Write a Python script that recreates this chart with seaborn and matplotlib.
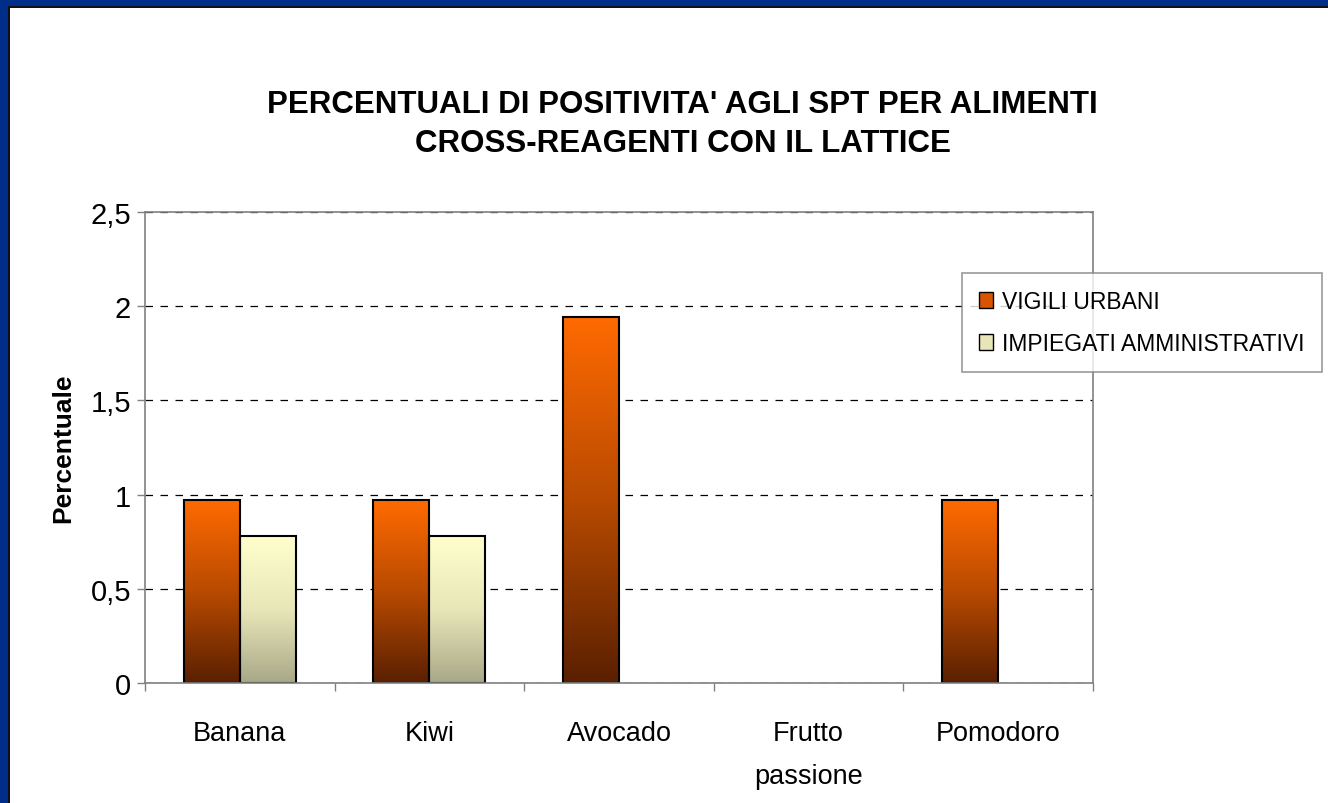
import numpy as np
import pandas as pd
import matplotlib
matplotlib.use("Agg")
import matplotlib.pyplot as plt
from matplotlib.patches import Patch, Rectangle
from matplotlib.colors import LinearSegmentedColormap
from matplotlib.ticker import FuncFormatter
import seaborn as sns

# data
foods = ["Banana", "Kiwi", "Avocado", "Frutto\npassione", "Pomodoro"]
vigili = [0.97, 0.97, 1.94, 0.0, 0.97]
impiegati = [0.78, 0.78, 0.0, 0.0, 0.0]
groups = ["VIGILI URBANI", "IMPIEGATI AMMINISTRATIVI"]
y_ticks = [0, 0.5, 1, 1.5, 2, 2.5]

df = pd.DataFrame({
    "Alimento": foods * 2,
    "Gruppo": [groups[0]] * len(foods) + [groups[1]] * len(foods),
    "Percentuale": vigili + impiegati,
})

sns.set_theme(style="white")
plt.rcParams["font.family"] = ["Liberation Sans", "DejaVu Sans"]
plt.rcParams["text.color"] = "black"
plt.rcParams["axes.labelcolor"] = "black"
plt.rcParams["xtick.labelcolor"] = "black"
plt.rcParams["ytick.labelcolor"] = "black"

fig = plt.figure(figsize=(13.28, 8.04), dpi=100)
ax = fig.add_axes([0.1092, 0.1493, 0.7139, 0.5858])

sns.barplot(data=df, x="Alimento", y="Percentuale", hue="Gruppo",
            hue_order=groups, palette=["#FF6600", "#FFFFCC"],
            width=0.59, edgecolor="black", linewidth=1.5, ax=ax)
ax.get_legend().remove()

# vertical gradient fills clipped to the bars
grad_maps = [
    LinearSegmentedColormap.from_list("org", ["#5A2000", "#B84A00", "#FF6A00"]),
    LinearSegmentedColormap.from_list("yel", ["#A8A888", "#E8E6B8", "#FFFFCC"]),
]
grad = np.linspace(0, 1, 256).reshape(-1, 1)
for cont, cmap in zip(ax.containers, grad_maps):
    for bar in cont:
        h = bar.get_height()
        if h <= 0:
            bar.set_visible(False)
            continue
        x0 = bar.get_x()
        img = ax.imshow(grad, cmap=cmap, origin="lower", aspect="auto",
                        extent=[x0, x0 + bar.get_width(), 0, h], zorder=bar.get_zorder())
        img.set_clip_path(bar)
        bar.set_facecolor("none")
        bar.set_zorder(bar.get_zorder() + 0.1)

ax.set_xlim(-0.5, len(foods) - 0.5)
ax.set_ylim(0, 2.5)
ax.set_yticks(y_ticks)
ax.yaxis.set_major_formatter(FuncFormatter(lambda v, p: f"{v:g}".replace(".", ",")))
ax.yaxis.grid(True, color="black", linestyle=(0, (6, 6)), linewidth=0.9)
ax.set_axisbelow(True)

# category boundaries as ticks, labels centred between them
ax.set_xticks(np.arange(-0.5, len(foods)), minor=True)
ax.tick_params(axis="x", which="major", length=0, pad=27, labelsize=19.5)
ax.tick_params(axis="x", which="minor", length=6, width=1, color="#808080",
               bottom=True, direction="out")
ax.tick_params(axis="y", length=6, width=1, color="#808080", left=True,
               direction="out", labelsize=21, pad=4)
for lab in ax.get_xticklabels():
    lab.set_linespacing(1.85)

for s in ax.spines.values():
    s.set_color("#808080")
    s.set_linewidth(1.2)

ax.set_xlabel("")
ax.set_ylabel("Percentuale", fontsize=19, fontweight="bold", labelpad=11)

fig.text(0.514, 0.845,
         "PERCENTUALI DI POSITIVITA' AGLI SPT PER ALIMENTI\nCROSS-REAGENTI CON IL LATTICE",
         ha="center", va="center", fontsize=22.5, fontweight="bold", linespacing=1.4)

handles = [Patch(facecolor="#D85400", edgecolor="black"),
           Patch(facecolor="#E8E6B8", edgecolor="black")]
leg = fig.legend(handles, groups, loc="upper left", bbox_to_anchor=(0.7244, 0.659),
                 fontsize=16.5, frameon=True, fancybox=False, handlelength=0.6,
                 handleheight=0.7, handletextpad=0.4, labelspacing=0.8,
                 borderpad=0.75, borderaxespad=0)
leg.get_frame().set_edgecolor("#808080")
leg.get_frame().set_linewidth(1.2)

# blue slide frame along the top and left edges
fig.patches.append(Rectangle((0, 1 - 7 / 804), 1, 7 / 804, transform=fig.transFigure,
                             facecolor="#002D8A", edgecolor="none", zorder=10))
fig.patches.append(Rectangle((0, 0), 8 / 1328, 1, transform=fig.transFigure,
                             facecolor="#002D8A", edgecolor="none", zorder=10))
fig.patches.append(Rectangle((8 / 1328, 0), 1.5 / 1328, 1 - 7 / 804, transform=fig.transFigure,
                             facecolor="#111111", edgecolor="none", zorder=10))
fig.patches.append(Rectangle((8 / 1328, 1 - 8.5 / 804), 1, 1.5 / 804, transform=fig.transFigure,
                             facecolor="#111111", edgecolor="none", zorder=10))

fig.savefig("out.png", dpi=100, facecolor="white")
